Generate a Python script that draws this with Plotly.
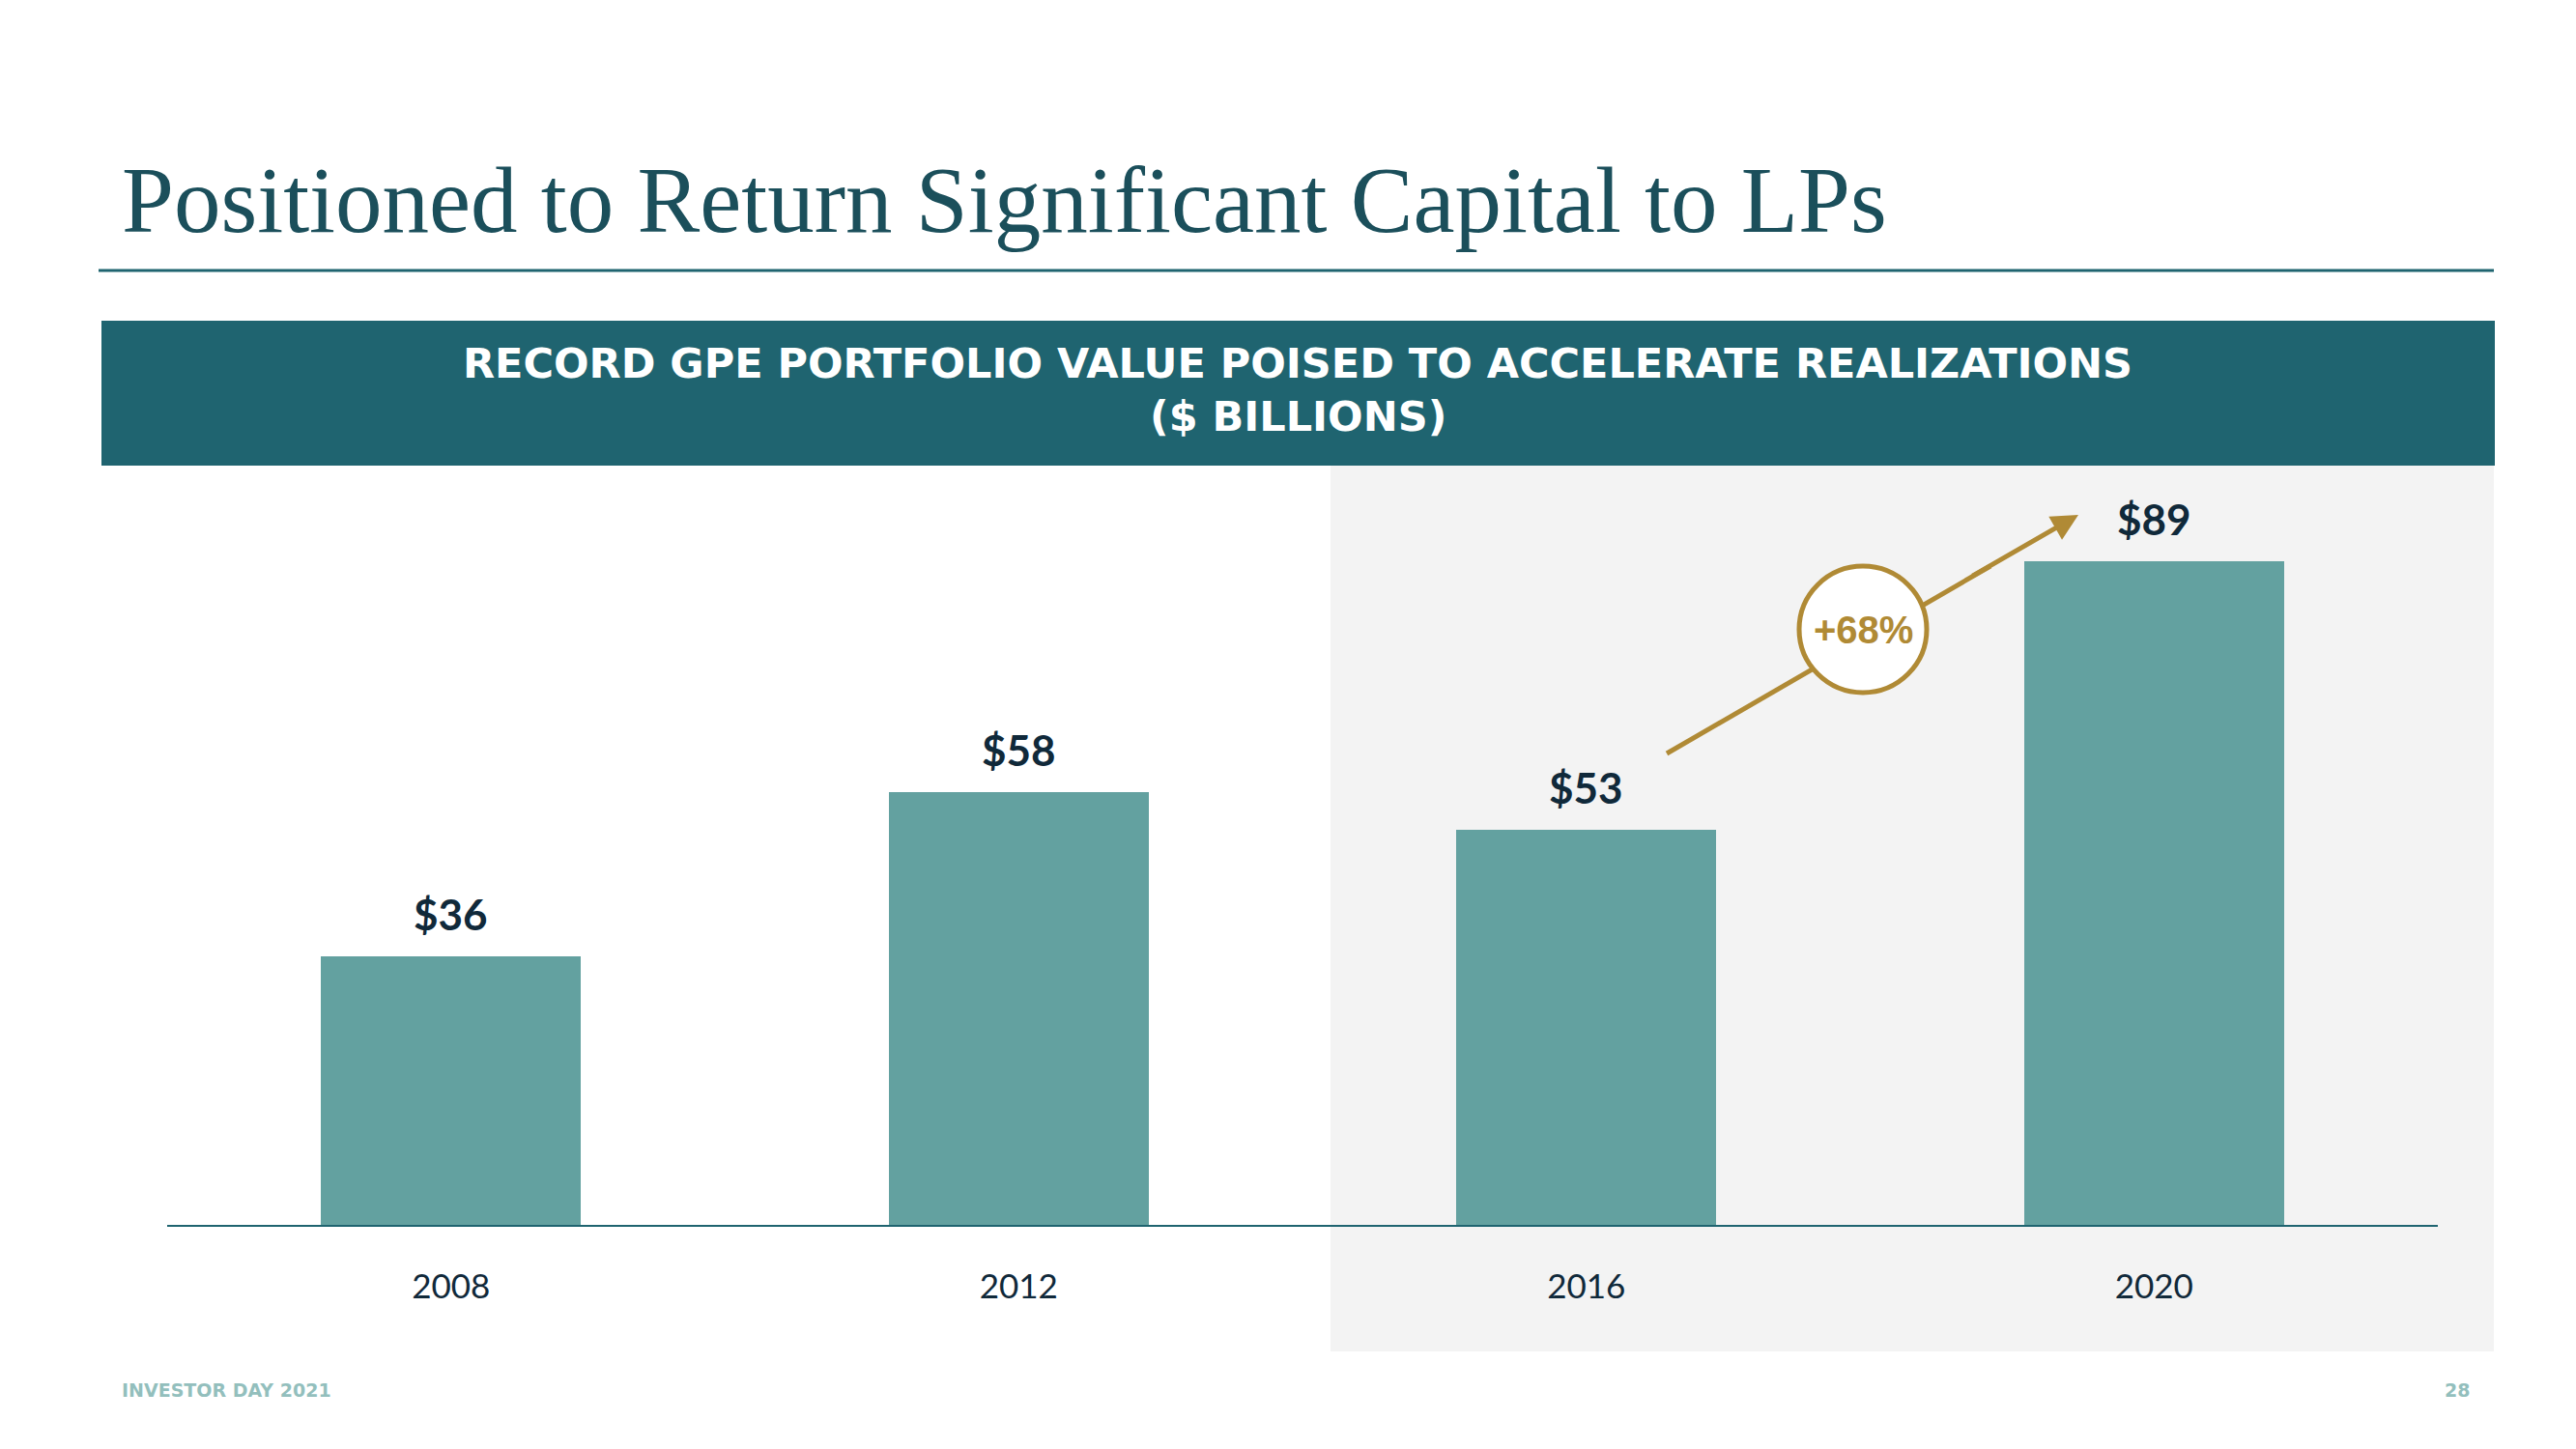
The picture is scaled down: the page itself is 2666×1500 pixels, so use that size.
import plotly.graph_objects as go

# ---- data ----
years = ["2008", "2012", "2016", "2020"]
values = [36, 58, 53, 89]
value_labels = ["$36", "$58", "$53", "$89"]
growth_label = "+68%"
title_text = "Positioned to Return Significant Capital to LPs"
banner_line1 = "RECORD GPE PORTFOLIO VALUE POISED TO ACCELERATE REALIZATIONS"
banner_line2 = "($ BILLIONS)"
footer_left = "INVESTOR DAY 2021"
footer_right = "28"

# ---- styles ----
TEAL_DARK = "#1f6470"
TITLE_COL = "#1b4f5b"
BAR_COL = "#63a1a0"
NAVY = "#10293a"
GOLD = "#b08a35"
GREY_BG = "#f3f3f3"
FOOT_COL = "#93bfbd"

W, Hh = 2666, 1500
L, R, B, T = 173, 2523, 1268, 496
PW, PH = R - L, B - T


def px(x):
    return (x - L) / PW


def py(y):
    return (B - y) / PH


fig = go.Figure()
fig.add_trace(go.Bar(
    x=years, y=values, width=0.458,
    marker=dict(color=BAR_COL, line=dict(width=0)),
    hoverinfo="skip", showlegend=False,
))

shapes = [
    # grey highlight box
    dict(type="rect", xref="paper", yref="paper", x0=px(1377), x1=px(2581),
         y0=py(1399), y1=py(482), fillcolor=GREY_BG, line=dict(width=0), layer="below"),
    # banner
    dict(type="rect", xref="paper", yref="paper", x0=px(105), x1=px(2582),
         y0=py(482), y1=py(332), fillcolor=TEAL_DARK, line=dict(width=0), layer="below"),
    # title rule
    dict(type="line", xref="paper", yref="paper", x0=px(102), x1=px(2581),
         y0=py(280), y1=py(280), line=dict(color=TEAL_DARK, width=3)),
    # growth arrow shaft
    dict(type="line", xref="paper", yref="paper", x0=px(1725), y0=py(780),
         x1=px(2060), y1=py(586), line=dict(color=GOLD, width=5), layer="above"),
    # circle
    dict(type="circle", xref="paper", yref="paper", x0=px(1862), x1=px(1994),
         y0=py(717), y1=py(586), fillcolor="white", line=dict(color=GOLD, width=5),
         layer="above"),
]

annotations = []
# value labels (category index positions)
for i, (v, lab) in enumerate(zip(values, value_labels)):
    annotations.append(dict(
        x=i, y=v, xref="x", yref="y", text=lab, showarrow=False,
        xanchor="center", yanchor="middle", yshift=44,
        font=dict(family="Lato", size=44, color=NAVY, weight="bold"),
    ))

# title
annotations.append(dict(
    x=px(124), y=py(207), xref="paper", yref="paper", text=title_text,
    showarrow=False, xanchor="left", yanchor="middle",
    font=dict(family="Liberation Serif", size=97, color=TITLE_COL),
))
# banner text
annotations.append(dict(
    x=px(1343), y=py(376), xref="paper", yref="paper", text=banner_line1,
    showarrow=False, xanchor="center", yanchor="middle",
    font=dict(family="DejaVu Sans", size=43, color="white", weight="bold"),
))
annotations.append(dict(
    x=px(1343), y=py(431), xref="paper", yref="paper", text=banner_line2,
    showarrow=False, xanchor="center", yanchor="middle",
    font=dict(family="DejaVu Sans", size=43, color="white", weight="bold"),
))
# arrow head
annotations.append(dict(
    x=px(2151), y=py(533), xref="paper", yref="paper",
    ax=2040 - 2151, ay=597 - 533, axref="pixel", ayref="pixel",
    text="", showarrow=True, arrowhead=2, arrowsize=1.1, arrowwidth=5,
    arrowcolor=GOLD, standoff=0,
))
# growth label
annotations.append(dict(
    x=px(1928), y=py(652), xref="paper", yref="paper", text=growth_label,
    showarrow=False, xanchor="center", yanchor="middle",
    font=dict(family="Liberation Sans", size=40, color=GOLD, weight="bold"),
))
# footer
annotations.append(dict(
    x=px(124), y=py(1439), xref="paper", yref="paper", text=footer_left,
    showarrow=False, xanchor="left", yanchor="middle",
    font=dict(family="DejaVu Sans", size=19, color=FOOT_COL, weight="bold"),
))
annotations.append(dict(
    x=px(2558), y=py(1439), xref="paper", yref="paper", text=footer_right,
    showarrow=False, xanchor="right", yanchor="middle",
    font=dict(family="DejaVu Sans", size=19, color=FOOT_COL, weight="bold"),
))

fig.update_layout(
    width=W, height=Hh, autosize=False,
    margin=dict(l=L, r=W - R, t=T, b=Hh - B, pad=0),
    paper_bgcolor="white", plot_bgcolor="rgba(0,0,0,0)",
    shapes=shapes, annotations=annotations,
    bargap=0,
    xaxis=dict(
        type="category", range=[-0.5, 3.5], showgrid=False, zeroline=False,
        showline=True, linecolor=TEAL_DARK, linewidth=2, ticks="",
        tickfont=dict(family="Lato", size=35, color=NAVY),
        ticklabelstandoff=32, fixedrange=True,
    ),
    yaxis=dict(range=[0, 100], visible=False, showgrid=False, zeroline=False,
               fixedrange=True),
)

fig.write_html("out.html")
